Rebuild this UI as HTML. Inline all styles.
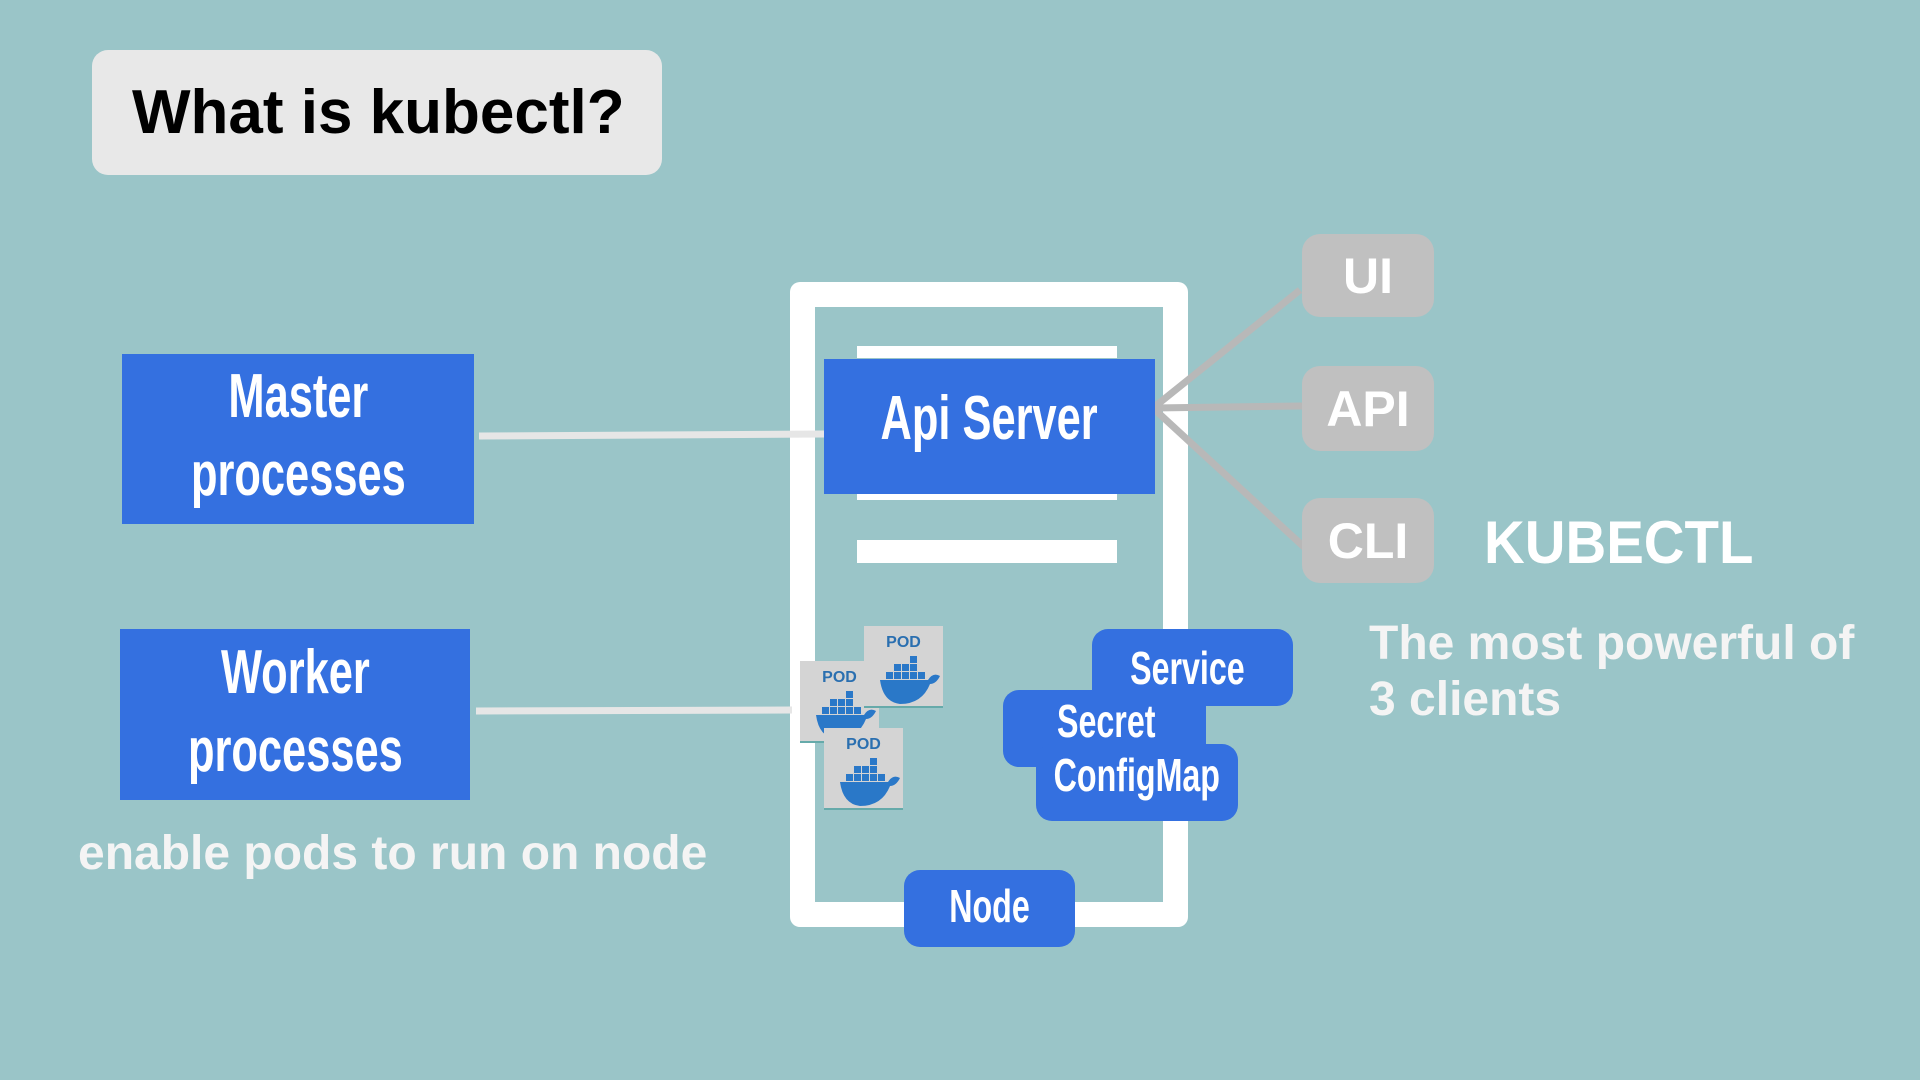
<!DOCTYPE html>
<html><head><meta charset="utf-8"><style>
body{margin:0;width:1920px;height:1080px;background:#9ac5c8;position:relative;overflow:hidden;font-family:"Liberation Sans",sans-serif}
.a{position:absolute;box-sizing:border-box}
.blue{background:#3470e0;color:#fff;font-family:"Liberation Sans",sans-serif;font-weight:bold;display:flex;align-items:center;justify-content:center;text-align:center}
.blue span{display:inline-block;transform:scaleX(0.7);white-space:nowrap}
.gray{background:#c0c0c0;color:#fff;border-radius:18px;font-weight:bold;font-size:50px;display:flex;align-items:center;justify-content:center}
.pod{background:#d4d4d4;width:79px;height:82px;border-bottom:2px solid #6aa;}
.pod span{position:absolute;top:8px;width:100%;text-align:center;color:#2a6fb0;font-weight:bold;font-size:16px}
</style></head><body>
<div class="a" style="left:92px;top:50px;width:570px;height:125px;background:#e8e8e8;border-radius:16px;font-weight:bold;font-size:62px;padding-left:40px;line-height:125px;color:#000">What is kubectl?</div>

<div class="a" style="left:790px;top:282px;width:398px;height:645px;border:25px solid #fff;border-radius:10px"></div>
<div class="a" style="left:857px;top:346px;width:260px;height:12px;background:#fff"></div>
<div class="a" style="left:857px;top:490px;width:260px;height:10px;background:#fff"></div>
<div class="a" style="left:857px;top:540px;width:260px;height:23px;background:#fff"></div>

<svg class="a" style="left:0;top:0" width="1920" height="1080">
<line x1="479" y1="436" x2="824" y2="434" stroke="#e6e6e6" stroke-width="7"/>
<line x1="476" y1="711" x2="792" y2="710" stroke="#e6e6e6" stroke-width="7"/>
<g stroke="#b8b8b8" stroke-width="7">
<line x1="1153" y1="408" x2="1300" y2="290"/>
<line x1="1153" y1="408" x2="1302" y2="406"/>
<line x1="1153" y1="408" x2="1304" y2="547"/>
</g>
</svg>

<div class="a blue" style="left:824px;top:359px;width:331px;height:135px;font-size:62px;padding-bottom:16px"><span>Api Server</span></div>
<div class="a blue" style="left:122px;top:354px;width:352px;height:170px;font-size:62px;line-height:78px;padding-bottom:6px"><span>Master<br>processes</span></div>
<div class="a blue" style="left:120px;top:629px;width:350px;height:171px;font-size:62px;line-height:78px;padding-bottom:6px"><span>Worker<br>processes</span></div>
<div class="a" style="left:78px;top:826px;color:#f4f4f4;font-weight:bold;font-size:48px">enable pods to run on node</div>

<div class="a gray" style="left:1302px;top:234px;width:132px;height:83px">UI</div>
<div class="a gray" style="left:1302px;top:366px;width:132px;height:85px">API</div>
<div class="a gray" style="left:1302px;top:498px;width:132px;height:85px">CLI</div>
<div class="a" style="left:1484px;top:508px;color:#fff;font-weight:bold;font-size:60px;transform:scaleX(0.94);transform-origin:left">KUBECTL</div>
<div class="a" style="left:1369px;top:616px;color:#f4f4f4;font-weight:bold;font-size:48px;line-height:56px">The most powerful of<br>3 clients</div>

<div class="a pod" style="left:800px;top:661px"><span>POD</span><svg class="a" style="left:16px;top:28px" width="60" height="50" viewBox="0 0 60 50"><path d="M0 26 H48 Q53 18 60 22 Q56 30 50 30 Q42 50 20 50 Q3 48 0 26Z" fill="#2a78c8"/><g fill="#2a78c8"><rect x="6" y="18" width="7" height="7"/><rect x="14" y="18" width="7" height="7"/><rect x="22" y="18" width="7" height="7"/><rect x="30" y="18" width="7" height="7"/><rect x="38" y="18" width="7" height="7"/><rect x="14" y="10" width="7" height="7"/><rect x="22" y="10" width="7" height="7"/><rect x="30" y="10" width="7" height="7"/><rect x="30" y="2" width="7" height="7"/></g></svg></div>
<div class="a pod" style="left:864px;top:626px"><span>POD</span><svg class="a" style="left:16px;top:28px" width="60" height="50" viewBox="0 0 60 50"><path d="M0 26 H48 Q53 18 60 22 Q56 30 50 30 Q42 50 20 50 Q3 48 0 26Z" fill="#2a78c8"/><g fill="#2a78c8"><rect x="6" y="18" width="7" height="7"/><rect x="14" y="18" width="7" height="7"/><rect x="22" y="18" width="7" height="7"/><rect x="30" y="18" width="7" height="7"/><rect x="38" y="18" width="7" height="7"/><rect x="14" y="10" width="7" height="7"/><rect x="22" y="10" width="7" height="7"/><rect x="30" y="10" width="7" height="7"/><rect x="30" y="2" width="7" height="7"/></g></svg></div>
<div class="a pod" style="left:824px;top:728px"><span>POD</span><svg class="a" style="left:16px;top:28px" width="60" height="50" viewBox="0 0 60 50"><path d="M0 26 H48 Q53 18 60 22 Q56 30 50 30 Q42 50 20 50 Q3 48 0 26Z" fill="#2a78c8"/><g fill="#2a78c8"><rect x="6" y="18" width="7" height="7"/><rect x="14" y="18" width="7" height="7"/><rect x="22" y="18" width="7" height="7"/><rect x="30" y="18" width="7" height="7"/><rect x="38" y="18" width="7" height="7"/><rect x="14" y="10" width="7" height="7"/><rect x="22" y="10" width="7" height="7"/><rect x="30" y="10" width="7" height="7"/><rect x="30" y="2" width="7" height="7"/></g></svg></div>

<div class="a blue" style="left:1092px;top:629px;width:201px;height:77px;border-radius:16px;font-size:46px;justify-content:flex-end;padding-right:48px"><span style="transform-origin:right">Service</span></div>
<div class="a blue" style="left:1003px;top:690px;width:203px;height:77px;border-radius:16px;font-size:46px;justify-content:flex-start;padding-left:54px;align-items:flex-start;padding-top:4px"><span style="transform-origin:left">Secret</span></div>
<div class="a blue" style="left:1036px;top:744px;width:202px;height:77px;border-radius:16px;font-size:46px;align-items:flex-start;padding-top:4px"><span>ConfigMap</span></div>
<div class="a blue" style="left:904px;top:870px;width:171px;height:77px;border-radius:16px;font-size:46px;padding-bottom:6px"><span>Node</span></div>
</body></html>
